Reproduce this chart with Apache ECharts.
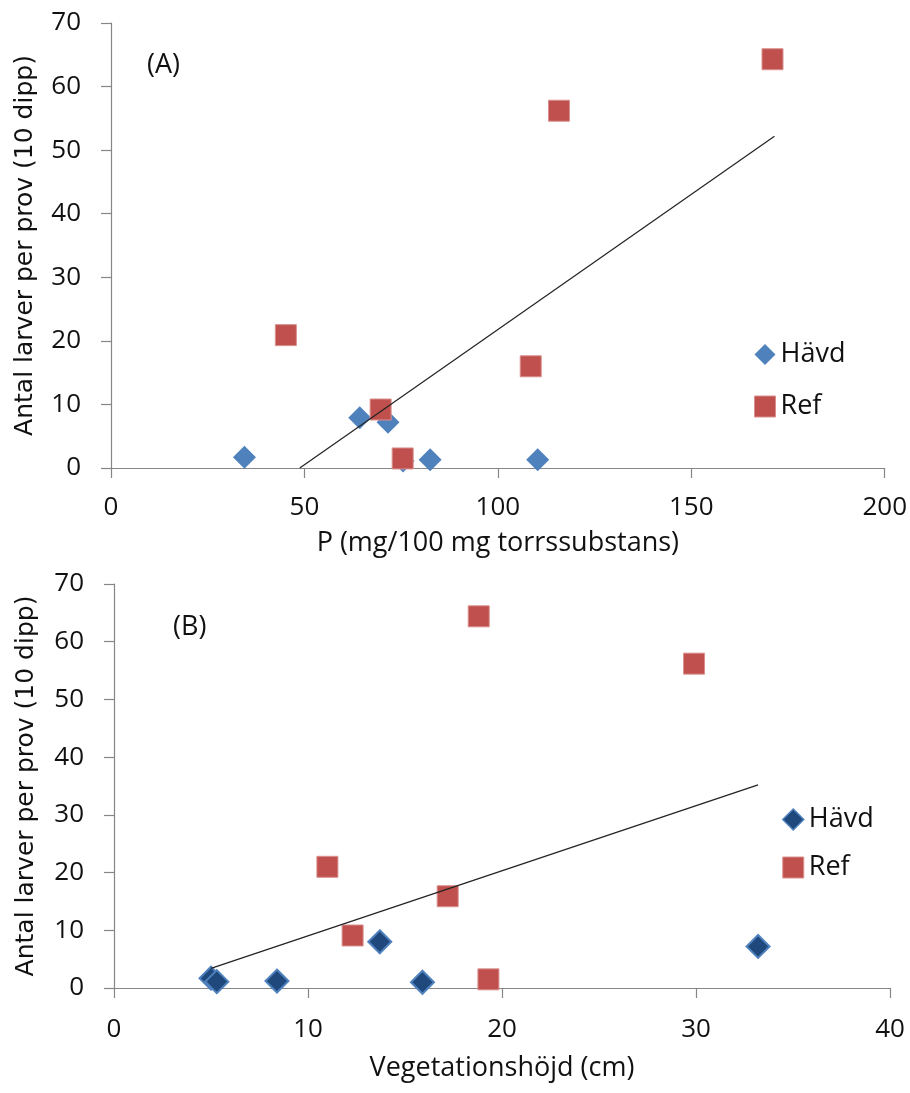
<!DOCTYPE html>
<html>
<head>
<meta charset="utf-8">
<script src="https://cdn.jsdelivr.net/npm/echarts@6/dist/echarts.min.js"></script>
<style>
  html, body { margin: 0; padding: 0; background: #ffffff; }
  #chart { width: 910px; height: 1093px; }
</style>
</head>
<body>
<div id="chart"></div>
<script>
// ---- Data: panel A (P vs larvae) ----
const havdA_x = [34.5, 64.3, 71.6, 75.5, 82.5, 110.3];
const havdA_y = [1.7, 7.9, 7.2, 1.1, 1.3, 1.3];
const refA_x  = [45.2, 69.7, 75.4, 108.5, 115.8, 171.0];
const refA_y  = [20.9, 9.2, 1.5, 16.0, 56.2, 64.3];
const trendA_x = [48.8, 171.5];
const trendA_y = [0, 52.2];

// ---- Data: panel B (vegetation height vs larvae) ----
const havdB_x = [5.0, 5.3, 8.4, 13.7, 15.9, 33.2];
const havdB_y = [1.7, 1.1, 1.2, 8.0, 1.0, 7.2];
const refB_x  = [11.0, 12.3, 17.2, 18.8, 19.3, 29.9];
const refB_y  = [21.0, 9.1, 15.9, 64.4, 1.5, 56.2];
const trendB_x = [5.0, 33.2];
const trendB_y = [3.4, 35.2];

const xTicksA = { min: 0, max: 200, interval: 50 };
const xTicksB = { min: 0, max: 40, interval: 10 };
const yTicks  = { min: 0, max: 70, interval: 10 };

const seriesNames = ['Hävd', 'Ref'];
const panelLabels = ['(A)', '(B)'];
const xNames = ['P (mg/100 mg torrssubstans)', 'Vegetationshöjd (cm)'];
const yName = 'Antal larver per prov (10 dipp)';

function zip(xs, ys) { return xs.map((x, i) => [x, ys[i]]); }

const axisCol = '#868686';
const txtCol = '#111111';
const tickFont = 'Open Sans';
const BLUE = '#4F81BD', DARKBLUE = '#1F497D', RED = '#C0504D';

function xAxis(idx, t, name, gap, margin) {
  return {
    type: 'value', gridIndex: idx, min: t.min, max: t.max, interval: t.interval,
    name: name, nameLocation: 'middle', nameGap: gap,
    nameTextStyle: { fontFamily: tickFont, fontSize: 27, color: txtCol },
    axisLine: { show: true, onZero: false, lineStyle: { color: axisCol, width: 1.2 } },
    axisTick: { show: true, inside: false, length: 10, lineStyle: { color: axisCol, width: 1.2 } },
    axisLabel: { fontFamily: tickFont, fontSize: 26, color: txtCol, margin: margin },
    splitLine: { show: false }
  };
}
function yAxis(idx, fs, gap) {
  return {
    type: 'value', gridIndex: idx, min: yTicks.min, max: yTicks.max, interval: yTicks.interval,
    name: yName, nameLocation: 'middle', nameGap: gap,
    nameTextStyle: { fontFamily: 'DejaVu Sans', fontSize: fs, color: txtCol },
    axisLine: { show: true, onZero: false, lineStyle: { color: axisCol, width: 1.2 } },
    axisTick: { show: true, inside: false, length: 10, lineStyle: { color: axisCol, width: 1.2 } },
    axisLabel: { fontFamily: tickFont, fontSize: 26, color: txtCol, margin: 30 },
    splitLine: { show: false }
  };
}

const chart = echarts.init(document.getElementById('chart'), null, { renderer: 'canvas' });
chart.setOption({
  animation: false,
  backgroundColor: '#ffffff',
  grid: [
    { left: 111, top: 23, width: 775, height: 445 },
    { left: 114, top: 584, width: 776, height: 404 }
  ],
  title: [
    { text: panelLabels[0], left: 142, top: 47, textStyle: { fontFamily: tickFont, fontSize: 27, fontWeight: 'normal', color: txtCol } },
    { text: panelLabels[1], left: 168, top: 609, textStyle: { fontFamily: tickFont, fontSize: 27, fontWeight: 'normal', color: txtCol } }
  ],
  legend: [
    {
      orient: 'vertical', left: 749, top: 336, itemWidth: 21, itemHeight: 21, itemGap: 25,
      textStyle: { fontFamily: tickFont, fontSize: 27, color: txtCol },
      data: [
        { name: seriesNames[0], icon: 'diamond', itemStyle: { color: BLUE, borderColor: BLUE, borderWidth: 0 } },
        { name: seriesNames[1], icon: 'rect', itemStyle: { color: RED, borderColor: '#D9908E', borderWidth: 1 } }
      ],
      selectedMode: false
    },
    {
      orient: 'vertical', left: 777, top: 801, itemWidth: 21, itemHeight: 21, itemGap: 21,
      textStyle: { fontFamily: tickFont, fontSize: 27, color: txtCol },
      data: [
        { name: seriesNames[0], icon: 'diamond', itemStyle: { color: DARKBLUE, borderColor: BLUE, borderWidth: 1.5 } },
        { name: seriesNames[1], icon: 'rect', itemStyle: { color: RED, borderColor: '#D9908E', borderWidth: 1 } }
      ],
      selectedMode: false
    }
  ],
  xAxis: [ xAxis(0, xTicksA, xNames[0], 62, 27), xAxis(1, xTicksB, xNames[1], 67, 29) ],
  yAxis: [ yAxis(0, 25, 73), yAxis(1, 25, 75) ],
  series: [
    { name: seriesNames[0], type: 'scatter', xAxisIndex: 0, yAxisIndex: 0, symbol: 'diamond', symbolSize: 23, clip: false,
      itemStyle: { color: BLUE, opacity: 1 }, data: zip(havdA_x, havdA_y), z: 2 },
    { name: seriesNames[1], type: 'scatter', xAxisIndex: 0, yAxisIndex: 0, symbol: 'rect', symbolSize: 21, clip: false,
      itemStyle: { color: RED, borderColor: '#D9908E', borderWidth: 1, opacity: 1 }, data: zip(refA_x, refA_y), z: 3 },
    { name: 'trendA', type: 'line', xAxisIndex: 0, yAxisIndex: 0, showSymbol: false, symbol: 'none', clip: false,
      lineStyle: { color: '#222222', width: 1.2 }, data: zip(trendA_x, trendA_y), z: 4 },
    { name: seriesNames[0], type: 'scatter', xAxisIndex: 1, yAxisIndex: 1, symbol: 'diamond', symbolSize: 23, clip: false,
      itemStyle: { color: DARKBLUE, borderColor: BLUE, borderWidth: 2, opacity: 1 }, data: zip(havdB_x, havdB_y), z: 2 },
    { name: seriesNames[1], type: 'scatter', xAxisIndex: 1, yAxisIndex: 1, symbol: 'rect', symbolSize: 21, clip: false,
      itemStyle: { color: RED, borderColor: '#D9908E', borderWidth: 1, opacity: 1 }, data: zip(refB_x, refB_y), z: 3 },
    { name: 'trendB', type: 'line', xAxisIndex: 1, yAxisIndex: 1, showSymbol: false, symbol: 'none', clip: false,
      lineStyle: { color: '#222222', width: 1.2 }, data: zip(trendB_x, trendB_y), z: 4 }
  ]
});
</script>
</body>
</html>
